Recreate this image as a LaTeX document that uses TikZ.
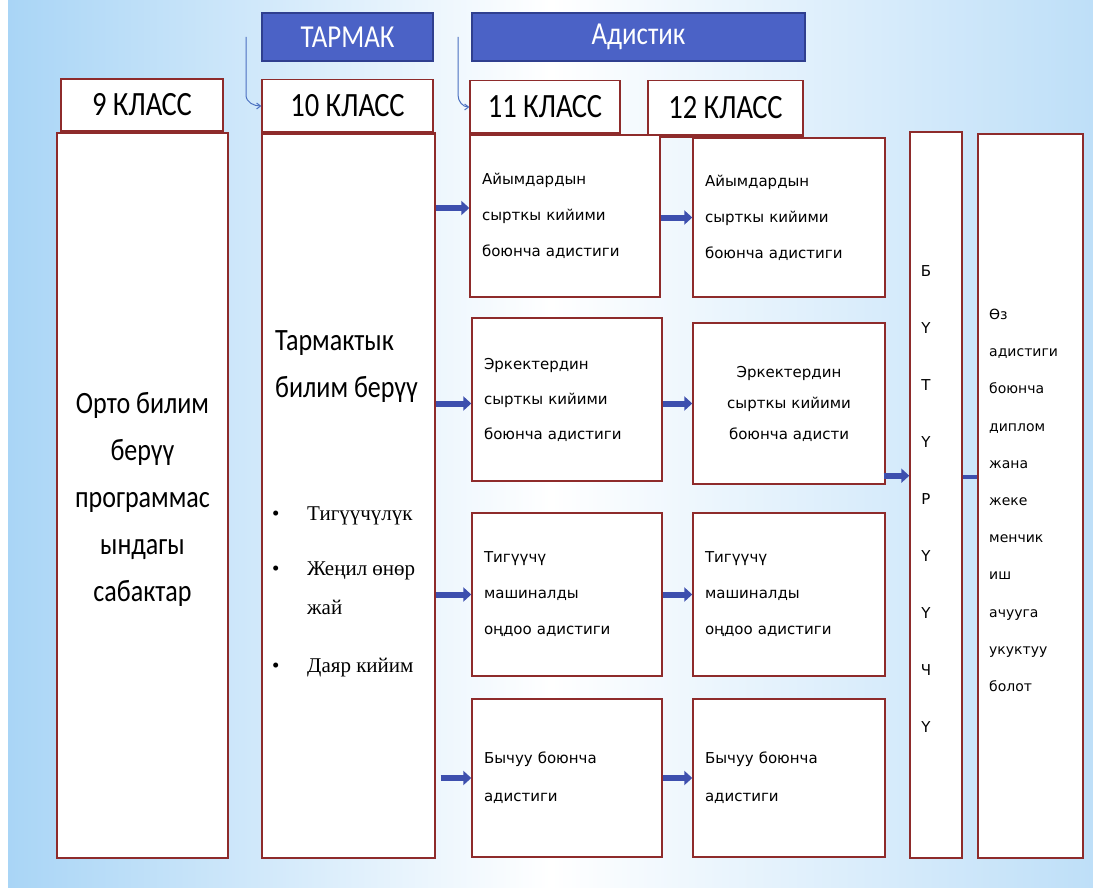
\documentclass[tikz,border=0pt]{standalone}
\usepackage{fontspec}
\setmainfont{Carlito}[FakeStretch=0.84]
\newfontfamily\smallf{DejaVu Sans}
\newfontfamily\serf{Liberation Serif}
\usetikzlibrary{arrows.meta,calc}
\definecolor{boxred}{HTML}{8E2B2B}
\definecolor{hblue}{HTML}{4B62C6}
\definecolor{hborder}{HTML}{2F3F8F}
\definecolor{arrblue}{HTML}{3D4FAE}
\definecolor{thinblue}{HTML}{4A6FC0}
\definecolor{bgL}{HTML}{A9D5F6}
\definecolor{bgR}{HTML}{BEDFF8}
\tikzset{
  hdr/.style={draw=hborder, fill=hblue, line width=1.2pt, text=white, inner sep=0pt,
    font=\fontsize{32}{34}\selectfont},
  klass/.style={draw=boxred, fill=white, line width=1.2pt, inner sep=0pt,
    font=\fontsize{34}{36}\selectfont},
  bigbox/.style={draw=boxred, fill=white, line width=1.4pt, inner sep=0pt},
  rowbox/.style={draw=boxred, fill=white, line width=1.4pt, inner xsep=12pt, inner ysep=0pt,
    align=left, font=\smallf\fontsize{15}{36}\selectfont},
  rowboxc/.style={rowbox, align=center},
  blk/.style={line width=6pt, draw=arrblue, -{Triangle[length=8pt,width=14pt]}},
  thinarr/.style={draw=thinblue, line width=1pt, -{Straight Barb[length=4pt,width=6pt]}},
  bigtxt/.style={inner sep=0pt, font=\fontsize{31}{47}\selectfont},
  bul/.style={inner sep=0pt, anchor=base west, font=\serf\fontsize{21}{24}\selectfont},
  sm/.style={inner sep=0pt, font=\smallf\fontsize{14}{16}\selectfont}
}
\begin{document}
\begin{tikzpicture}[x=1pt,y=-1pt]
\useasboundingbox (0,0) rectangle (1093,888);
\fill[white] (0,0) rectangle (8,888);
\shade[left color=bgL, right color=bgR, middle color=white] (8,0) rectangle (1093,888);

% headers
\node[hdr, minimum width=171pt, minimum height=48pt] (hT) at (347.5,37) {ТАРМАК};
\node[hdr, minimum width=333pt, minimum height=48pt] (hA) at (638.5,37) {Адистик};

% class headers
\node[klass, minimum width=162pt, minimum height=52pt] (h9) at (142,105) {9 КЛАСС};
\node[klass, minimum width=171pt, minimum height=53pt] (h10) at (347.5,106) {10 КЛАСС};
\node[klass, minimum width=150pt, minimum height=53pt] (h11) at (545,107) {11 КЛАСС};
\node[klass, minimum width=155pt, minimum height=55pt] (h12) at (725.5,108) {12 КЛАСС};

% big boxes
\node[bigbox, minimum width=171pt, minimum height=725pt] (b9) at (142.5,495.5) {};
\node[bigbox, minimum width=173pt, minimum height=725pt] (b10) at (348.5,495.5) {};
\foreach \h in {h9,h10,h11,h12}{
  \draw[boxred, line width=3.5pt] (\h.south west) -- (\h.south east);
}

% texts in big boxes
\node[bigtxt, align=center] (t9) at (142.5,499) {Орто билим\\берүү\\программас\\ындагы\\сабактар};
\node[bigtxt, anchor=base west, align=left] (t10) at (275,397) {Тармактык\\билим берүү};
\node[bul] (d1) at (272,520) {•};
\node[bul] (l1) at (307,520) {Тигүүчүлүк};
\node[bul] (d2) at (272,575) {•};
\node[bul] (l2) at (307,575) {Жеңил өнөр};
\node[bul] (l2b) at (307,614) {жай};
\node[bul] (d3) at (272,672) {•};
\node[bul] (l3) at (307,672) {Даяр кийим};

% row boxes
\node[rowbox, text width=166pt, minimum height=162pt] (r1a) at (565,216) {Айымдардын\\сырткы кийими\\боюнча адистиги};
\node[rowbox, text width=168pt, minimum height=159pt] (r1b) at (789,217.5) {Айымдардын\\сырткы кийими\\боюнча адистиги};
\node[rowbox, text width=166pt, minimum height=163pt, font=\smallf\fontsize{15}{35}\selectfont] (r2a) at (567,399.5) {Эркектердин\\сырткы кийими\\боюнча адистиги};
\node[rowboxc, text width=168pt, minimum height=161pt, font=\smallf\fontsize{15}{31}\selectfont] (r2b) at (789,403.5) {Эркектердин\\сырткы кийими\\боюнча адисти};
\node[rowbox, text width=166pt, minimum height=163pt] (r3a) at (567,594.5) {Тигүүчү\\машиналды\\оңдоо адистиги};
\node[rowbox, text width=168pt, minimum height=163pt] (r3b) at (789,594.5) {Тигүүчү\\машиналды\\оңдоо адистиги};
\node[rowbox, text width=166pt, minimum height=158pt, font=\smallf\fontsize{15}{38}\selectfont] (r4a) at (567,778) {Бычуу боюнча\\адистиги};
\node[rowbox, text width=168pt, minimum height=158pt, font=\smallf\fontsize{15}{38}\selectfont] (r4b) at (789,778) {Бычуу боюнча\\адистиги};

% graduate boxes
\node[bigbox, minimum width=52pt, minimum height=726pt] (but) at (936,495) {};
\node[bigbox, minimum width=105pt, minimum height=724pt] (fin) at (1030.5,496) {};
\node[sm, align=center, font=\smallf\fontsize{15}{57}\selectfont, anchor=north] (butt) at (926,265) {Б\\Ү\\Т\\Ү\\Р\\Ү\\Ү\\Ч\\Ү};
\node[sm, align=left, anchor=north west, font=\smallf\fontsize{14}{37.2}\selectfont] (fint) at (989,309) {Өз\\адистиги\\боюнча\\диплом\\жана\\жеке\\менчик\\иш\\ачууга\\укуктуу\\болот};

% thin arrows
\coordinate (s1) at (246,37);
\coordinate (s2) at (458,37);
\draw[thinarr] (s1) -- ++(0,58) to[out=-90,in=180] (h10.west);
\draw[thinarr] (s2) -- ++(0,58) to[out=-90,in=180] (h11.west);

% block arrows
\draw[blk] (b10.east |- r1a.west) ++(0,-8) coordinate (q1) -- (r1a.west |- q1);
\draw[blk] (b10.east |- r2a.west) ++(0,4) coordinate (q2) -- (r2a.west |- q2);
\draw[blk] (b10.east |- r3a.west) -- (r3a.west);
\draw[blk] ($(b10.east |- r4a.west)+(5,0)$) -- (r4a.west);
\draw[blk] (r1a.east |- r1b.west) -- (r1b.west);
\draw[blk] (r2a.east |- r2b.west) -- (r2b.west);
\draw[blk] (r3a.east |- r3b.west) -- (r3b.west);
\draw[blk] (r4a.east |- r4b.west) -- (r4b.west);
\coordinate (q5) at ($(r2b.south east)+(-2,-9)$);
\draw[blk] (q5) -- (but.west |- q5);
\coordinate (q6) at ($(but.east)+(0,-18)$);
\draw[draw=arrblue, line width=4.5pt] (q6) -- (fin.west |- q6);
\end{tikzpicture}
\end{document}
